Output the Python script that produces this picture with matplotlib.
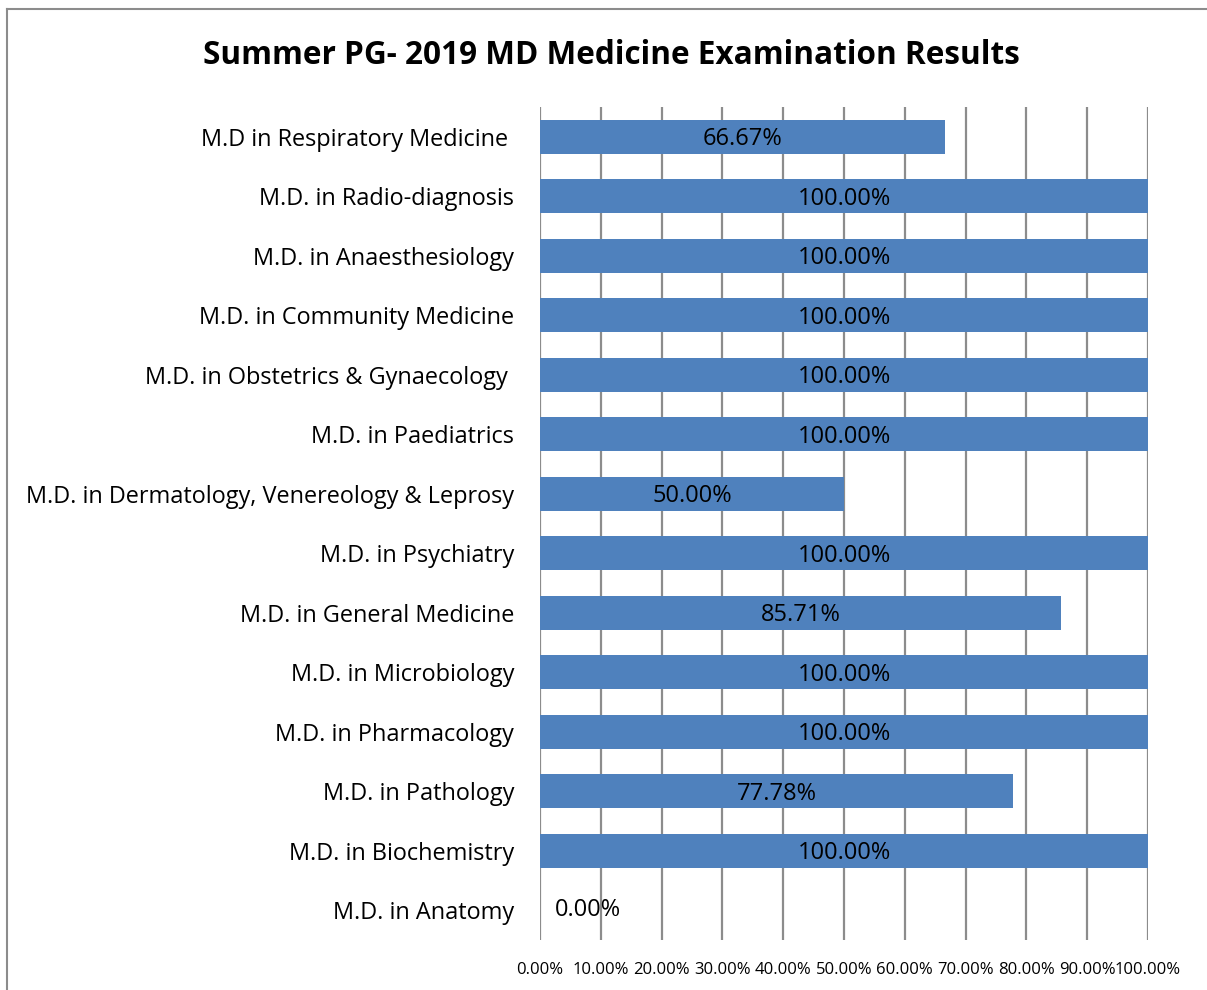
import matplotlib
matplotlib.use("Agg")
import matplotlib.pyplot as plt
from matplotlib.lines import Line2D

plt.rcParams['font.family'] = ['Open Sans', 'DejaVu Sans']

title = "Summer PG- 2019 MD Medicine Examination Results"
categories = [
    "M.D in Respiratory Medicine ",
    "M.D. in Radio-diagnosis",
    "M.D. in Anaesthesiology",
    "M.D. in Community Medicine",
    "M.D. in Obstetrics & Gynaecology ",
    "M.D. in Paediatrics",
    "M.D. in Dermatology, Venereology & Leprosy",
    "M.D. in Psychiatry",
    "M.D. in General Medicine",
    "M.D. in Microbiology",
    "M.D. in Pharmacology",
    "M.D. in Pathology",
    "M.D. in Biochemistry",
    "M.D. in Anatomy",
]
values = [66.67, 100, 100, 100, 100, 100, 50, 100, 85.71, 100, 100, 77.78, 100, 0]
xticks = [0, 10, 20, 30, 40, 50, 60, 70, 80, 90, 100]
xtick_labels = ["%.2f%%" % t for t in xticks]

W, H = 1207, 990
fig = plt.figure(figsize=(W / 100, H / 100), dpi=100)
ax = fig.add_axes([540 / W, 1 - 940 / H, (1148 - 540) / W, (940 - 107) / H])

ypos = list(range(len(categories)))
ax.barh(ypos, values, height=0.57, color='#4F81BD', linewidth=0, zorder=2)
ax.set_ylim(len(categories) - 0.5, -0.5)
ax.set_xlim(0, 100)
ax.set_yticks(ypos)
ax.set_yticklabels(categories, fontsize=16.9, color='black')
ax.set_xticks(xticks)
ax.set_xticklabels(xtick_labels, fontsize=12, color='black')
ax.tick_params(axis='y', length=0, pad=18.7)
ax.tick_params(axis='x', length=0, pad=16)
for s in ax.spines.values():
    s.set_visible(False)
ax.grid(axis='x', color='#8C8C8C', linewidth=1.6, zorder=1)
ax.set_axisbelow(True)

for y, v in zip(ypos, values):
    label = "%.2f%%" % v
    if v > 0:
        ax.text(v / 2, y + 0.04, label, ha='center', va='center', fontsize=17, color='black', zorder=3)
    else:
        ax.annotate(label, (0, y), xytext=(11, 0), textcoords='offset points',
                    ha='left', va='center', fontsize=17, color='black', zorder=3)

fig.text(611 / W, 1 - 56 / H, title, ha='center', va='center', fontsize=22.7, fontweight='bold')

fig.add_artist(Line2D([7 / W, 1], [1 - 9 / H, 1 - 9 / H], color='#8C8C8C', linewidth=1.5, transform=fig.transFigure))
fig.add_artist(Line2D([7 / W, 7 / W], [0, 1 - 9 / H], color='#8C8C8C', linewidth=1.5, transform=fig.transFigure))

fig.savefig("out.png", dpi=100)
